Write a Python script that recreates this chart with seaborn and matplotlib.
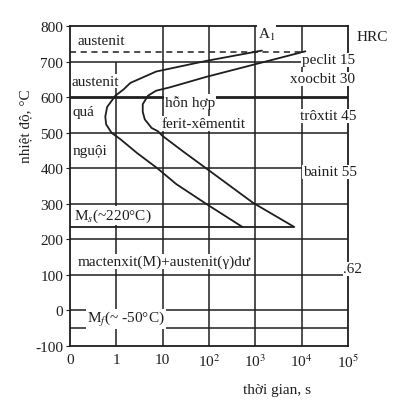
import numpy as np
import pandas as pd
import matplotlib
matplotlib.use("Agg")
import matplotlib.pyplot as plt
import seaborn as sns

# time (s) and temperature (°C)
start_time = [1380, 87, 7.2, 2.0, 1.41, 0.95, 0.63, 0.575, 0.60, 0.79, 1.2,
              2.75, 7.9, 19.5, 87, 525]
start_temp = [732, 703, 673, 641, 622, 605, 573, 546, 524, 500, 483,
              444, 399, 356, 300, 235]
end_time = [12000, 890, 87, 13.8, 7.2, 4.8, 3.7, 3.7, 4.1, 5.75, 7.8, 9.8,
            28, 87, 890, 6900]
end_temp = [730, 692, 658, 628, 619, 605, 581, 559, 538, 514, 505, 492,
            447, 400, 303, 235]

a1_temp = 727
ms_temp = 235
mf_temp = -50
grid_temps = [700, 600, 500, 400, 300, 200, 100, 0]

y_ticks = [800, 700, 600, 500, 400, 300, 200, 100, 0, -100]
y_labels = ["800", "700", "600", "500", "400", "300", "200", "100", "0", "-100"]
x_labels = ["0", "1", "10", "10$^2$", "10$^3$", "10$^4$", "10$^5$"]


def pos(t):
    # position on the drawn axis: "0" at 0, 1 s at 1, 10 s at 2 ...
    return np.log10(np.asarray(t, dtype=float)) + 1


sns.set_style("white")
plt.rcParams["font.family"] = ["Liberation Serif", "DejaVu Serif"]
plt.rcParams["mathtext.fontset"] = "stix"

fig = plt.figure(figsize=(3.96, 4.10), dpi=100)
ax = fig.add_axes([0.177, 0.154, 0.702, 0.779])
ink = "#1e1e1e"

start_df = pd.DataFrame({"x": pos(start_time), "T": start_temp})
end_df = pd.DataFrame({"x": pos(end_time), "T": end_temp})
sns.lineplot(data=start_df, x="x", y="T", sort=False, estimator=None,
             color=ink, lw=1.3, ax=ax)
sns.lineplot(data=end_df, x="x", y="T", sort=False, estimator=None,
             color=ink, lw=1.3, ax=ax)

# grid
for T in grid_temps:
    right = 5 if T in (700, 400) else 6
    ax.hlines(T, 0, right, color=ink, lw=2.0 if T == 600 else 1.1)
for p in range(1, 6):
    ax.vlines(p, -100, 800 if p > 1 else 700, color=ink, lw=1.1)
ax.hlines(a1_temp, 0, pos(end_time[0]), color=ink, lw=1.1, linestyles=(0, (4, 3)))
ax.hlines(ms_temp, 0, pos(end_time[-1]), color=ink, lw=1.3)
ax.hlines(mf_temp, 0, 6, color=ink, lw=1.1)

ax.set_xlim(0, 6)
ax.set_ylim(-100, 800)
ax.set_xticks(range(7))
ax.set_xticklabels(x_labels)
ax.set_yticks(y_ticks)
ax.set_yticklabels(y_labels)
ax.tick_params(labelsize=11, length=3, pad=2, colors=ink, left=True, bottom=False)
for s in ax.spines.values():
    s.set_color(ink)
    s.set_linewidth(1.3)

ax.set_xlabel("")
ax.set_ylabel("")
ax.text(-0.16, 0.69, "nhiệt độ, °C", transform=ax.transAxes, rotation=90,
        ha="center", va="center", fontsize=11, color=ink)
ax.text(0.745, -0.138, "thời gian, s", transform=ax.transAxes,
        ha="center", va="center", fontsize=11, color=ink)

box = dict(facecolor="white", edgecolor="none", pad=0.6)
labels = [
    (0.17, 761, "austenit"),
    (0.03, 646, "austenit"),
    (0.05, 559, "quá"),
    (0.05, 450, "nguội"),
    (2.05, 587, "hỗn hợp"),
    (1.98, 527, "ferit-xêmentit"),
    (0.09, 268, "M$_s$(~220°C)"),
    (0.16, 137, "mactenxit(M)+austenit(γ)dư"),
    (0.37, -24, "M$_f$(~ -50°C)"),
    (4.05, 779, "A$_1$"),
    (5.0, 706, "peclit 15"),
    (4.74, 652, "xoocbit 30"),
    (4.96, 548, "trôxtit 45"),
    (5.02, 390, "bainit 55"),
    (5.9, 117, ".62"),
    (6.18, 772, "HRC"),
]
for x, y, s in labels:
    ax.text(x, y, s, ha="left", va="center", fontsize=11, color=ink,
            bbox=box, clip_on=False)

fig.savefig("out.png", dpi=100, facecolor="white")
